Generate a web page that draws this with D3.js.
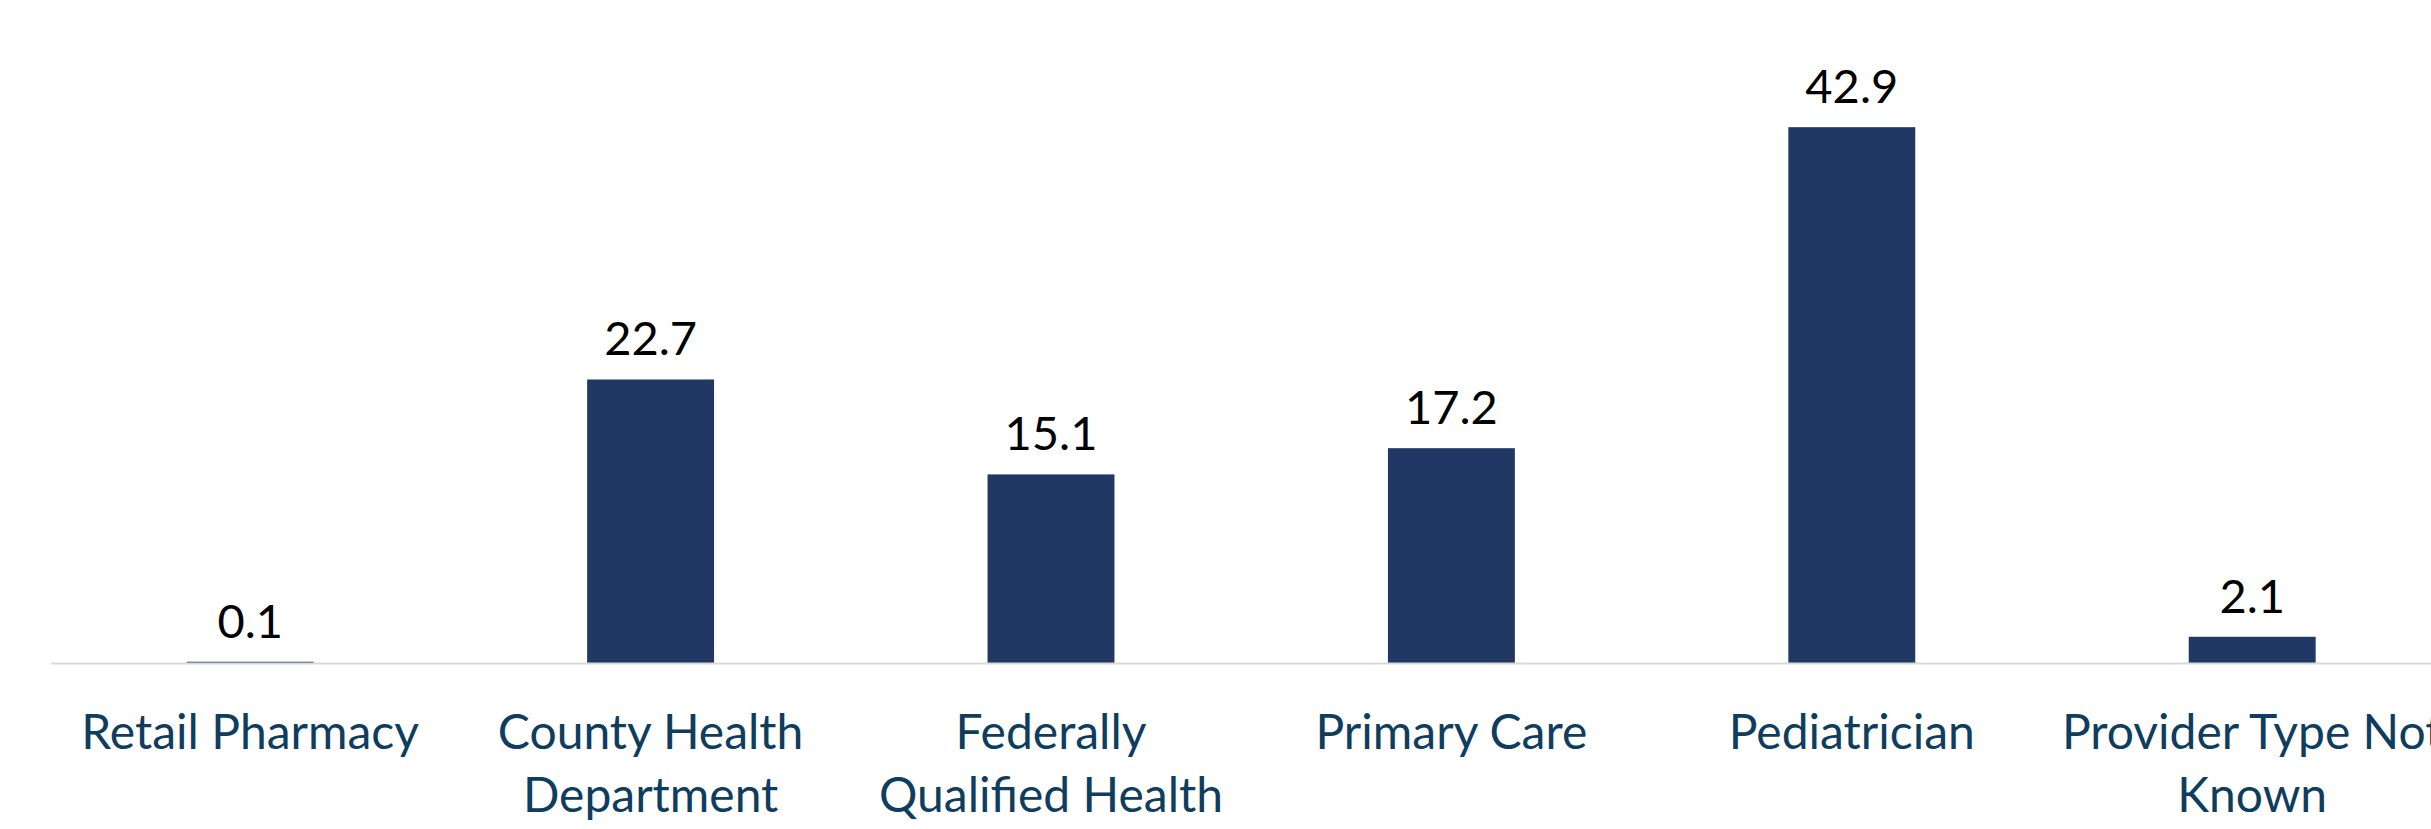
<!DOCTYPE html>
<html>
<head>
<meta charset="utf-8">
<script src="https://cdn.jsdelivr.net/npm/d3@7"></script>
<style>
  html, body { margin: 0; padding: 0; background: #ffffff; overflow: hidden; }
  svg { display: block; }
</style>
</head>
<body>
<svg id="chart" width="2431" height="829"></svg>
<script>
const categories = ["Retail Pharmacy", "County Health Department", "Federally Qualified Health Center", "Primary Care", "Pediatrician", "Provider Type Not Known"];
const categoryLines = [["Retail Pharmacy"], ["County Health", "Department"], ["Federally", "Qualified Health"], ["Primary Care"], ["Pediatrician"], ["Provider Type Not", "Known"]];
const values = [0.1, 22.7, 15.1, 17.2, 42.9, 2.1];
const yMax = 50;

const svg = d3.select("#chart");
const left = 50, step = 400.4;
const baseY = 663, topY = 38.5;

const x = d3.scaleBand()
  .domain(categories)
  .range([left, left + step * categories.length])
  .paddingInner(0.683)
  .paddingOuter(0.3415);

const y = d3.scaleLinear().domain([0, yMax]).range([baseY, topY]);

// bars
svg.append("g").selectAll("rect")
  .data(values)
  .join("rect")
  .attr("x", (d, i) => x(categories[i]))
  .attr("width", x.bandwidth())
  .attr("y", d => y(d))
  .attr("height", d => Math.max(baseY - y(d), 1))
  .attr("fill", "#213864");

// axis line
svg.append("line")
  .attr("x1", left + 1).attr("x2", 2431)
  .attr("y1", baseY + 0.5).attr("y2", baseY + 0.5)
  .attr("stroke", "#d9d9d9").attr("stroke-width", 2);

// value labels
svg.append("g").selectAll("text")
  .data(values)
  .join("text")
  .attr("x", (d, i) => x(categories[i]) + x.bandwidth() / 2)
  .attr("y", d => y(d) - 24)
  .attr("text-anchor", "middle")
  .attr("font-family", "Lato, 'Open Sans', sans-serif")
  .attr("font-size", 47)
  .attr("fill", "#000000")
  .text(d => d.toFixed(1));

// category labels
const cat = svg.append("g").selectAll("text")
  .data(categoryLines)
  .join("text")
  .attr("text-anchor", "middle")
  .attr("font-family", "Lato, 'Open Sans', sans-serif")
  .attr("font-size", 48)
  .attr("fill", "#0f3d5e");
cat.each(function(lines, i) {
  const cx = x(categories[i]) + x.bandwidth() / 2;
  d3.select(this).selectAll("tspan")
    .data(lines)
    .join("tspan")
    .attr("x", cx)
    .attr("y", (l, j) => 749 + j * 63)
    .text(l => l);
});
</script>
</body>
</html>
